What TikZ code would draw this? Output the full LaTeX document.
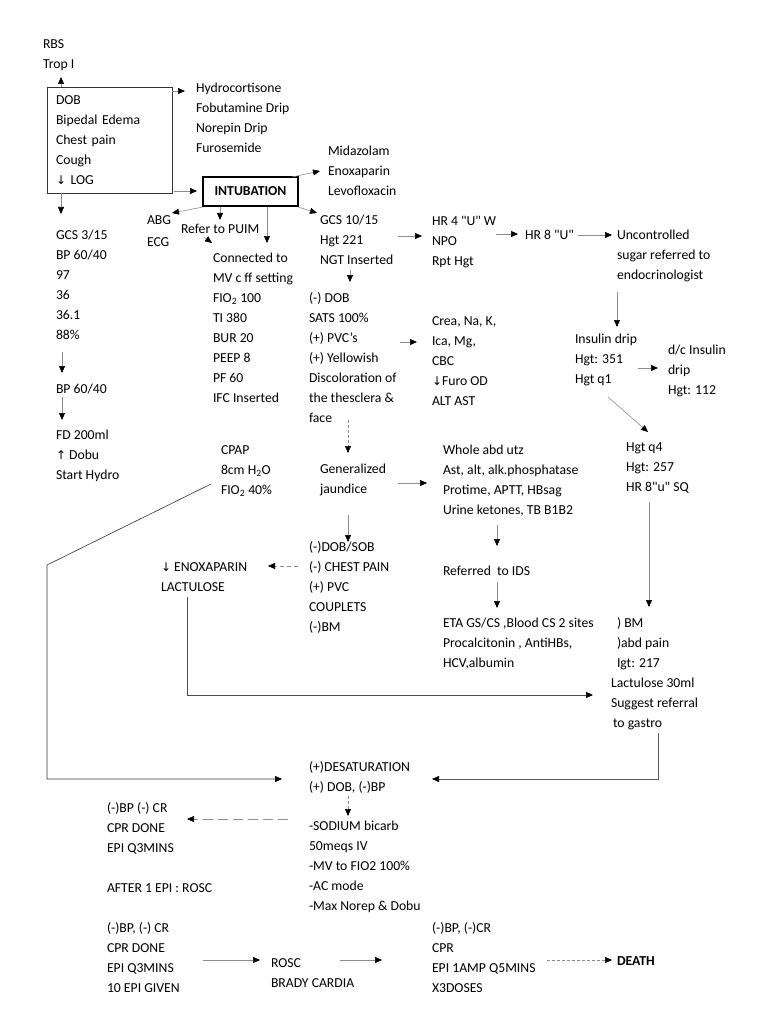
\documentclass[tikz,border=0pt]{standalone}
\usepackage{fontspec}
\setmainfont{Carlito}[Ligatures=TeXOff]
\newfontfamily\arrowfont{DejaVu Sans}
\usetikzlibrary{arrows.meta,calc}
\newcommand{\mydn}{{\arrowfont\fontsize{12}{20}\selectfont ↓}}
\newcommand{\myup}{{\arrowfont\fontsize{12}{20}\selectfont ↑}}
\newcommand{\ml}[1]{\begin{tabular}[t]{@{}l@{}}#1\end{tabular}}
\begin{document}
\begin{tikzpicture}[x=1pt,y=-1pt,
  txt/.style={font=\fontsize{13.7}{20}\selectfont, anchor=base west, inner sep=0pt, outer sep=0pt},
  arr/.style={draw=black!45, line width=0.6pt, -{Triangle[length=7pt,width=6pt,color=black]}},
  dsh/.style={arr, dash pattern=on 3pt off 2pt},
  ldsh/.style={arr, dash pattern=on 10pt off 5pt}]
\fill[white] (0,0) rectangle (768,1024);
\useasboundingbox (0,0) rectangle (768,1024);

% ---------- nodes ----------
\node[txt] (rbs) at (43,48.5) {\ml{RBS\\Trop I}};
\node[draw=black!80, line width=0.8pt, anchor=north west, minimum width=125pt, minimum height=106pt,
      text width=107pt, inner xsep=9pt, inner ysep=0pt, outer sep=0pt, align=left,
      font=\fontsize{13.7}{20}\selectfont] (sym) at (47,87)
      {DOB\\Bipedal Edema\\Chest pain\\Cough\\\mydn\ LOG};
\node[txt] (meds) at (196,92.5) {\ml{Hydrocortisone\\Fobutamine Drip\\Norepin Drip\\Furosemide}};
\node[draw, line width=1.8pt, minimum width=95pt, minimum height=29pt, inner sep=0pt, outer sep=0pt,
      font=\bfseries\fontsize{13.7}{20}\selectfont] (intub) at (250.5,191.5) {INTUBATION};
\node[txt] (mida) at (328,155.5) {\ml{Midazolam\\Enoxaparin\\Levofloxacin}};
\node[txt] (abg) at (147,224.5) {\ml{ABG\\[1.7pt]ECG}};
\node[txt] (puim) at (181,233.5) {\ml{Refer to PUIM}};
\node[txt] (conn) at (213,262.5) {\ml{Connected to\\MV c ff setting\\FIO\textsubscript{2} 100\\TI 380\\BUR 20\\PEEP 8\\PF 60\\IFC Inserted}};
\node[txt] (cpap) at (221,454.5) {\ml{CPAP\\8cm H\textsubscript{2}O\\FIO\textsubscript{2} 40\%}};
\node[txt] (gcs) at (320,224.5) {\ml{GCS 10/15\\Hgt 221\\NGT Inserted}};
\node[txt] (dob) at (309,302.5) {\ml{(-) DOB\\SATS 100\%\\(+) PVC’s\\(+) Yellowish\\Discoloration of\\the thesclera \&\\face}};
\node[txt] (crea) at (432,325.5) {\ml{Crea, Na, K,\\Ica, Mg,\\CBC\\\mydn Furo OD\\ALT AST}};
\node[txt] (hr4) at (432,225.5) {\ml{HR 4 "U" W\\NPO\\Rpt Hgt}};
\node[txt] (hr8) at (525,239.5) {\ml{HR 8 "U"}};
\node[txt] (unc) at (617,239.5) {\ml{Uncontrolled\\sugar referred to\\endocrinologist}};
\node[txt] (ins) at (575,343.5) {\ml{Insulin drip\\Hgt: 351\\Hgt q1}};
\node[txt] (dc) at (668,354.5) {\ml{d/c Insulin\\drip\\Hgt: 112}};
\node[txt] (q4) at (626,451.5) {\ml{Hgt q4\\Hgt: 257\\HR 8"u" SQ}};
\node[txt] (gen) at (320,473.5) {\ml{Generalized\\jaundice}};
\node[txt] (abd) at (443,454.5) {\ml{Whole abd utz\\Ast, alt, alk.phosphatase\\Protime, APTT, HBsag\\Urine ketones, TB B1B2}};
\node[txt] (ids) at (443,575.5) {\ml{Referred\ \ to IDS}};
\node[txt] (eta) at (443,627.5) {\ml{ETA GS/CS ,Blood CS 2 sites\\Procalcitonin , AntiHBs,\\HCV,albumin}};
\node[txt] (sob) at (309,551.5) {\ml{(-)DOB/SOB\\(-) CHEST PAIN\\(+) PVC\\COUPLETS\\(-)BM}};
\node[txt] (enox) at (161,571.5) {\ml{\mydn\ ENOXAPARIN\\LACTULOSE}};
\node[txt] (bm) at (617,627.5) {\ml{) BM\\)abd pain\\Igt: 217}};
\node[txt] (lact) at (611,687.5) {\ml{Lactulose 30ml\\Suggest referral\\\hspace{2pt}to gastro}};
\node[txt] (gcs3) at (56,239.5) {\ml{GCS 3/15\\BP 60/40\\97\\36\\36.1\\88\%}};
\node[txt] (bp2) at (56,393.5) {\ml{BP 60/40}};
\node[txt] (fd) at (56,439.5) {\ml{FD 200ml\\\myup\ Dobu\\Start Hydro}};
\node[txt] (desat) at (309,771.5) {\ml{(+)DESATURATION\\(+) DOB, (-)BP}};
\node[txt] (bpcr1) at (107,812.5) {\ml{(-)BP (-) CR\\CPR DONE\\EPI Q3MINS}};
\node[txt] (after) at (107,892.5) {\ml{AFTER 1 EPI : ROSC}};
\node[txt] (sod) at (309,830.5) {\ml{-SODIUM bicarb\\50meqs IV\\-MV to FIO2 100\%\\-AC mode\\-Max Norep \& Dobu}};
\node[txt] (bpcr2) at (107,932.5) {\ml{(-)BP, (-) CR\\CPR DONE\\EPI Q3MINS\\10 EPI GIVEN}};
\node[txt] (rosc) at (271,967.5) {\ml{ROSC\\BRADY CARDIA}};
\node[txt] (bpcr3) at (432,932.5) {\ml{(-)BP, (-)CR\\CPR\\EPI 1AMP Q5MINS\\X3DOSES}};
\node[txt, font=\bfseries\fontsize{13.7}{20}\selectfont] (death) at (617,965.5) {DEATH};

% ---------- connectors ----------
\draw[arr] ($(sym.north west)+(14,0)$) -- ($(rbs.base west)+(18,28.5)$);
\draw[arr] ($(sym.north east)+(0,4)$) -- ($(meds.base west)+(-11,-1.5)$);
\draw[arr] ($(sym.south east)+(2,-2)$) -- ($(intub.west)+(-6,-0.5)$);
\draw[arr] ($(sym.south west)+(14,0)$) -- ($(gcs3.base west)+(5,-25.5)$);
\draw[arr] ($(intub.north east)+(-6,0)$) -- ($(mida.base west)+(-8,15.5)$);
\draw[arr] ($(intub.south west)+(0,1)$) -- ($(abg.base west)+(25,-11.5)$);
\draw[arr] ($(intub.south west)+(17,1)$) -- ($(puim.base west)+(39,-13.5)$);
\draw[arr] ($(puim.base west)+(23,3.5)$) -- ($(conn.base west)+(-1,-19.5)$);
\draw[arr] ($(intub.south west)+(64,1)$) -- ($(conn.base west)+(54,-19.5)$);
\draw[arr] ($(intub.south east)+(0,1)$) -- ($(gcs.base west)+(-3,-11.5)$);
\draw[arr] ($(gcs.base west)+(78,11.5)$) -- ($(hr4.base west)+(-10,10.5)$);
\draw[arr] ($(hr4.base west)+(64,8.5)$) -- ($(hr8.base west)+(-7,-5.5)$);
\draw[arr] ($(hr8.base west)+(53,-4.5)$) -- ($(unc.base west)+(-5,-4.5)$);
\draw[arr] ($(unc.base west)+(0,52.5)$) -- ($(ins.base west)+(42,-16.5)$);
\draw[arr] ($(ins.base west)+(63,24.5)$) -- ($(dc.base west)+(-10,13.5)$);
\draw[arr] ($(ins.base west)+(33,53.5)$) -- ($(q4.base west)+(22,-19.5)$);
\draw[arr] ($(q4.base west)+(23,50.5)$) -- ($(bm.base west)+(32,-20.5)$);
\draw[arr] ($(gcs.base west)+(30,45.5)$) -- ($(dob.base west)+(41,-20.5)$);
\draw[arr] ($(dob.base west)+(91,39.5)$) -- ($(crea.base west)+(-15,16.5)$);
\draw[dsh] ($(dob.base west)+(39,117.5)$) -- ($(gen.base west)+(28,-20.5)$);
\draw[arr] ($(gen.base west)+(78,9.5)$) -- ($(abd.base west)+(-16,28.5)$);
\draw[arr] ($(gen.base west)+(28,41.5)$) -- ($(sob.base west)+(39,-9.5)$);
\draw[arr] ($(abd.base west)+(54,70.5)$) -- ($(ids.base west)+(54,-29.5)$);
\draw[arr] ($(ids.base west)+(54,6.5)$) -- ($(eta.base west)+(54,-19.5)$);
\draw[dsh, dash pattern=on 4pt off 3pt] ($(sob.base west)+(-11,14.5)$) -- ($(enox.base west)+(107,-5.5)$);
\draw[arr, draw=black!70] ($(enox.base west)+(26,25.5)$) |- ($(lact.base west)+(-18,7.5)$);
\coordinate (bendL) at (47,565);
\draw[arr, draw=black!80] ($(cpap.base west)+(-10,29.5)$) -- (bendL) |- ($(desat.base west)+(-27,7.5)$);
\draw[arr, draw=black!65] ($(lact.base west)+(47,45.5)$) |- ($(desat.base west)+(123,7.5)$);
\draw[dsh] ($(desat.base west)+(39,24.5)$) -- ($(sod.base west)+(39,-14.5)$);
\draw[ldsh] ($(desat.base west)+(-21,47.5)$) -- ($(bpcr1.base west)+(80,6.5)$);
\draw[arr] ($(bpcr2.base west)+(96,27.5)$) -- ($(rosc.base west)+(-11,-7.5)$);
\draw[arr] ($(rosc.base west)+(69,-7.5)$) -- ($(bpcr3.base west)+(-50,27.5)$);
\draw[dsh] ($(bpcr3.base west)+(115,27.5)$) -- ($(death.base west)+(-5,-5.5)$);
\draw[arr] ($(gcs3.base west)+(6,112.5)$) -- ($(bp2.base west)+(6,-20.5)$);
\draw[arr] ($(bp2.base west)+(6,3.5)$) -- ($(fd.base west)+(6,-19.5)$);
\end{tikzpicture}
\end{document}
